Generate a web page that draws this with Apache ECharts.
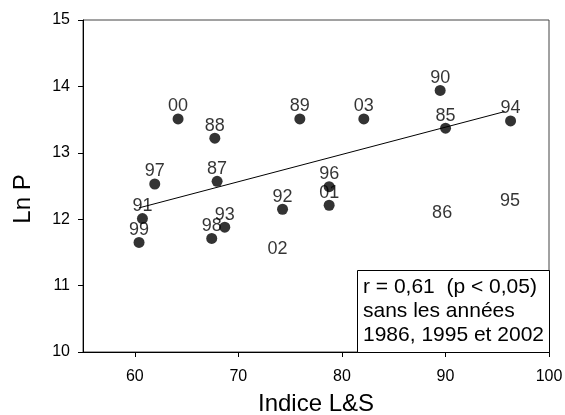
<!DOCTYPE html>
<html><head><meta charset="utf-8">
<script src="https://cdn.jsdelivr.net/npm/echarts@6/dist/echarts.min.js"></script>
<style>html,body{margin:0;padding:0;background:#fff}#c{width:565px;height:415px}</style>
</head><body><div id="c"></div>
<script>
var years = ['00','88','97','87','89','03','90','85','94','96','01','92','91','99','98','93'];
var indiceLS = [64.18,67.73,61.93,67.95,75.94,82.12,89.49,90.01,96.29,78.77,78.77,74.27,60.74,60.41,67.43,68.69];
var lnP = [13.51,13.22,12.53,12.57,13.51,13.51,13.94,13.37,13.48,12.49,12.21,12.15,12.01,11.65,11.71,11.88];
var excludedYears = ['02','86','95'];
var excludedX = [73.79,89.68,96.23];
var excludedY = [11.55,12.09,12.27];
var fitX = [60.4,95.7];
var fitY = [12.17,13.62];
var xTicks = [60,70,80,90,100];
var yTicks = [10,11,12,13,14,15];
var noteLines = ['r = 0,61  (p < 0,05)','sans les années','1986, 1995 et 2002'];

var FONT = 'Liberation Sans, Arial, sans-serif';
var chart = echarts.init(document.getElementById('c'), null, {renderer:'canvas'});
var mainData = years.map(function(y,i){return {value:[indiceLS[i],lnP[i]], name:y};});
var exData = excludedYears.map(function(y,i){return {value:[excludedX[i],excludedY[i]], name:y};});
var fitData = fitX.map(function(x,i){return [x,fitY[i]];});

chart.setOption({
  animation:false,
  backgroundColor:'#fff',
  grid:{left:83,right:16,top:20,bottom:63,containLabel:false,outerBoundsMode:'none',show:true,borderColor:'#444',borderWidth:1,backgroundColor:'transparent'},
  xAxis:{type:'value',min:55,max:100,
    name:'Indice L&S',nameLocation:'middle',nameGap:40,
    nameTextStyle:{fontFamily:FONT,fontSize:24,color:'#000'},
    axisLine:{show:true,onZero:false,lineStyle:{color:'#000',width:1}},
    axisTick:{show:true,length:5,inside:false,customValues:xTicks,lineStyle:{color:'#000'}},
    axisLabel:{customValues:xTicks,margin:17,fontFamily:FONT,fontSize:16,color:'#000'},
    splitLine:{show:false}},
  yAxis:{type:'value',min:10,max:15,interval:1,
    name:'Ln P',nameLocation:'middle',nameGap:48,nameRotate:90,
    nameTextStyle:{fontFamily:FONT,fontSize:24,color:'#000',padding:[0,26,0,0]},
    axisLine:{show:true,onZero:false,lineStyle:{color:'#000',width:1}},
    axisTick:{show:true,length:5,inside:false,lineStyle:{color:'#000'}},
    axisLabel:{margin:13,fontFamily:FONT,fontSize:16,color:'#000',
      formatter:function(v){return yTicks.indexOf(v)>=0?String(v):'';}},
    splitLine:{show:false}},
  series:[
    {type:'line',data:fitData,showSymbol:false,symbol:'none',lineStyle:{color:'#000',width:1},z:2,silent:true},
    {type:'scatter',data:mainData,symbol:'circle',symbolSize:11,itemStyle:{color:'#000'},z:3,
      label:{show:true,position:'top',distance:-2,formatter:'{b}',fontFamily:FONT,fontSize:18,color:'#000'}},
    {type:'scatter',data:exData,symbolSize:1,itemStyle:{color:'rgba(0,0,0,0)'},z:3,
      label:{show:true,position:'inside',formatter:'{b}',fontFamily:FONT,fontSize:18,color:'#000'}}
  ],
  graphic:[
    {type:'rect',shape:{x:357.5,y:270.5,width:192,height:82},style:{fill:'#fff',stroke:'#000',lineWidth:1},z:10},
    {type:'text',left:363,top:275,z:11,style:{text:noteLines.join('\n'),fontFamily:FONT,fontSize:21,lineHeight:24,fill:'#000'}}
  ]
});
</script></body></html>
